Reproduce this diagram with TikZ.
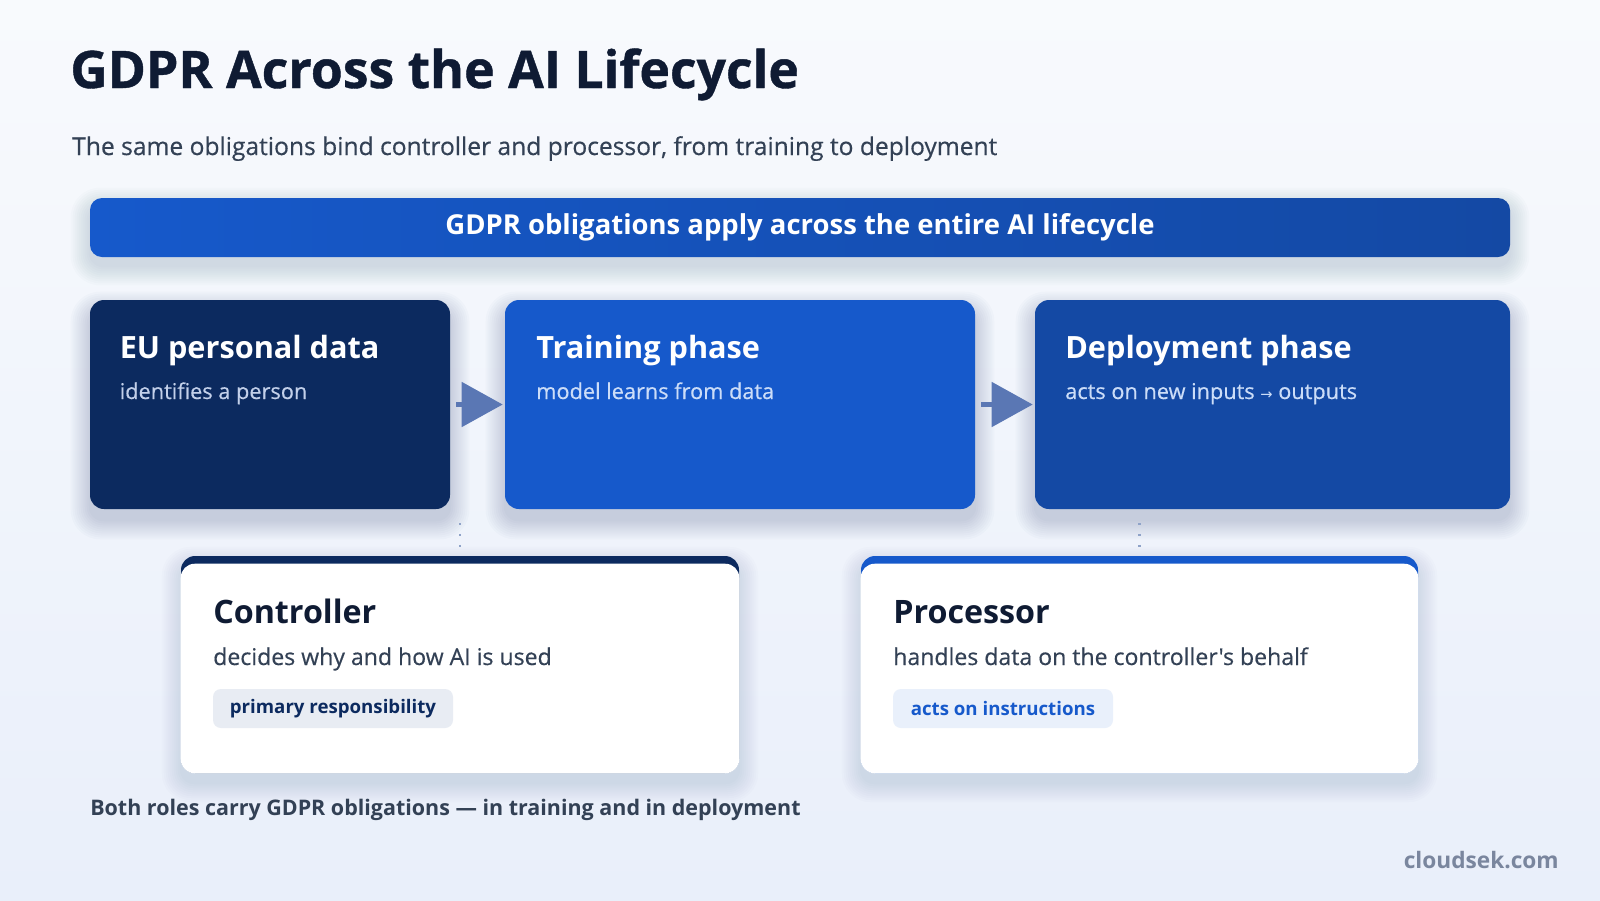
\documentclass[tikz,border=0pt]{standalone}
\usepackage{fontspec}
\setmainfont{Open Sans}[Ligatures=TeXOff]
\newfontfamily\medfont{Open Sans}[Ligatures=TeXOff, FakeBold=0.45]
\newfontfamily\heavyfont{Open Sans}[Ligatures=TeXOff, BoldFeatures={FakeBold=0.8}]
\newfontfamily\symfont{DejaVu Sans}
\usetikzlibrary{arrows.meta,calc}
\pgfdeclarelayer{back}
\pgfdeclarelayer{shadow}
\pgfsetlayers{back,shadow,main}
\definecolor{navy}{HTML}{0C2A5F}
\definecolor{blueA}{HTML}{1659CB}
\definecolor{blueB}{HTML}{1449A4}
\definecolor{ink}{HTML}{0F1B33}
\definecolor{slate}{HTML}{334155}
\definecolor{arrowc}{HTML}{5A77B4}
\definecolor{dotc}{HTML}{8FA3C8}
\definecolor{bgtop}{HTML}{F8FAFD}
\definecolor{bgbot}{HTML}{E9EFFA}
\definecolor{tagg}{HTML}{E8ECF3}
\definecolor{tagb}{HTML}{E9F0FB}
\definecolor{subnavy}{HTML}{C3D0EA}
\definecolor{subblue}{HTML}{CCDDF8}
\definecolor{footg}{HTML}{7A869E}
\definecolor{shadowc}{HTML}{1E3A6E}
\newcommand\softshadow[3]{% node, per-layer opacity, y offset (px)
  \begin{pgfonlayer}{shadow}
  \foreach \i in {1,3,...,19} {
    \fill[shadowc, opacity=#2, rounded corners=10.5pt+0.6*\i pt]
      ($(#1.north west)+(-\i,#3-\i)$) rectangle ($(#1.south east)+(\i,#3+\i)$);
  }
  \end{pgfonlayer}}
\tikzset{
  phase/.style={rounded corners=10.5pt, minimum height=156.75pt, inner sep=0pt},
  card/.style={rounded corners=10.5pt, minimum height=162.75pt, inner sep=0pt},
  ptitle/.style={anchor=base west, inner sep=0pt, text=white, font=\bfseries\fontsize{23}{28}\selectfont},
  psub/.style={anchor=base west, inner sep=0pt, font=\medfont\fontsize{16.3}{19}\selectfont},
  ctitle/.style={anchor=base west, inner sep=0pt, text=ink, font=\bfseries\fontsize{24.2}{29}\selectfont},
  cdesc/.style={anchor=base west, inner sep=0pt, text=slate, font=\medfont\fontsize{17.3}{20}\selectfont},
  tag/.style={rounded corners=6pt, minimum height=29.25pt, inner sep=0pt, font=\bfseries\fontsize{14}{16}\selectfont},
  flow/.style={draw=arrowc, line width=3.75pt, -{Triangle[length=30.75pt,width=33pt]}, shorten >=1.5pt},
  dots/.style={draw=dotc, line width=1.7pt, dash pattern=on 1.7pt off 6.5pt},
}
\begin{document}
\begin{tikzpicture}[x=0.75pt,y=-0.75pt]
\useasboundingbox (0,0) rectangle (1600,900);
\begin{pgfonlayer}{back}
\shade[top color=bgtop, bottom color=bgbot] (0,0) rectangle (1600,900);
\end{pgfonlayer}

% title
\node[anchor=base west, inner sep=0pt, text=ink, font=\heavyfont\bfseries\fontsize{38.8}{46}\selectfont] (title) at (70,88) {GDPR Across the AI Lifecycle};
\node[anchor=base west, inner sep=0pt, text=slate, font=\medfont\fontsize{18.45}{22}\selectfont] (subtitle) at (72,155) {The same obligations bind controller and processor, from training to deployment};

% banner
\node[rounded corners=9pt, minimum width=1065pt, minimum height=44.25pt, inner sep=0pt,
  left color=blueA, right color=blueB,
  text=white, font=\bfseries\fontsize{20.6}{24}\selectfont] (banner) at (800,227.5)
  {GDPR obligations apply across the entire AI lifecycle};
\softshadow{banner}{0.014}{9}

% phases
\node[phase, fill=navy, minimum width=270pt] (b1) at (270,404.5) {};
\node[phase, fill=blueA, minimum width=352.5pt] (b2) at (740,404.5) {};
\node[phase, fill=blueB, minimum width=356.25pt] (b3) at (1272.5,404.5) {};
\softshadow{b1}{0.019}{11}
\softshadow{b2}{0.019}{11}
\softshadow{b3}{0.019}{11}

\node[ptitle] (t1) at (119.5,358) {EU personal data};
\node[psub, text=subnavy] (s1) at (119.5,399) {identifies a person};
\node[ptitle] (t2) at (536,358) {Training phase};
\node[psub, text=subblue] (s2) at (536,399) {model learns from data};
\node[ptitle] (t3) at (1065,358) {Deployment phase};
\node[psub, text=subblue] (s3) at (1065,399) {acts on new inputs {\symfont\fontsize{11}{12}\selectfont →} outputs};

\draw[flow] ([xshift=4.5pt]b1.east) -- (b2.west);
\draw[flow] ([xshift=4.5pt]b2.east) -- (b3.west);

% cards
\node[card, fill=navy, minimum width=418.5pt] (ctrl) at (460,664.5) {};
\fill[white, rounded corners=10.5pt] ($(ctrl.north west)+(0,8)$) rectangle (ctrl.south east);
\node[card, fill=blueA, minimum width=417.75pt] (proc) at (1139.5,664.5) {};
\fill[white, rounded corners=10.5pt] ($(proc.north west)+(0,8)$) rectangle (proc.south east);
\softshadow{ctrl}{0.012}{10}
\softshadow{proc}{0.012}{10}

\coordinate (d1) at (460,523);
\coordinate (d2) at (1139.5,523);
\draw[dots] (d1) -- (ctrl.north);
\draw[dots] (d2) -- (proc.north);

\node[ctitle] (ct) at (213,623) {Controller};
\node[cdesc] (cd) at (213,665) {decides why and how AI is used};
\node[tag, fill=tagg, text=navy, minimum width=180pt] (ctag) at (333,708.5) {primary responsibility};

\node[ctitle] (pt) at (893,623) {Processor};
\node[cdesc] (pd) at (893,665) {handles data on the controller's behalf};
\node[tag, fill=tagb, text=blueA, minimum width=165pt] (ptag) at (1003,708.5) {acts on instructions};

% footer
\node[anchor=base west, inner sep=0pt, text=slate, font=\bfseries\fontsize{16.1}{19}\selectfont] (foot) at (90,815) {Both roles carry GDPR obligations — in training and in deployment};
\node[anchor=base east, inner sep=0pt, text=footg, font=\bfseries\fontsize{17}{20}\selectfont] (brand) at (1559,868) {cloudsek.com};
\end{tikzpicture}
\end{document}
